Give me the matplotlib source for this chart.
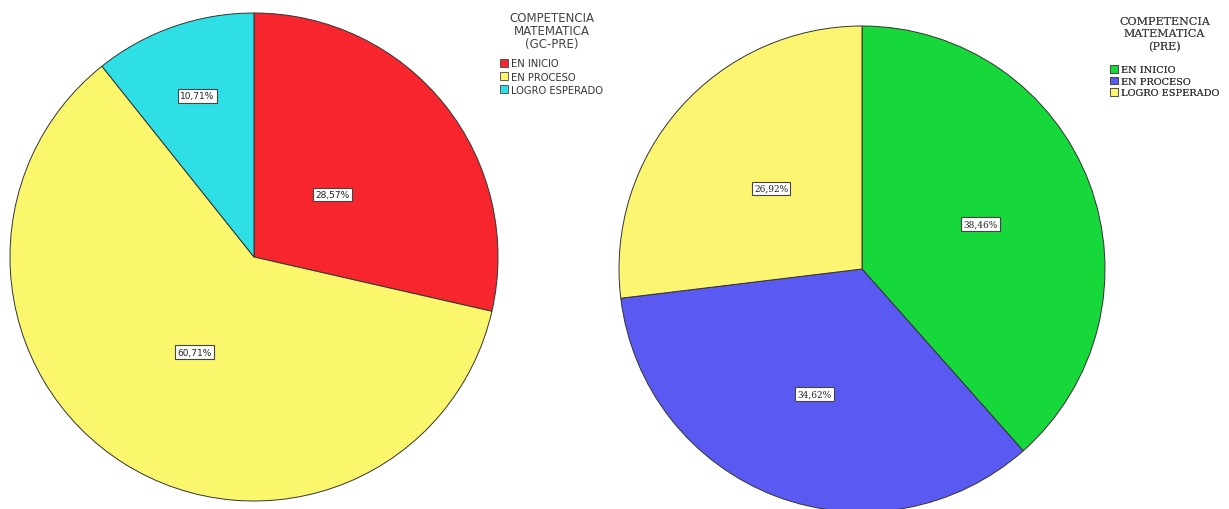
import numpy as np
import matplotlib.pyplot as plt

# data
categories = ["EN INICIO", "EN PROCESO", "LOGRO ESPERADO"]
gc_pre = [28.57, 60.71, 10.71]
pre = [38.46, 34.62, 26.92]
gc_colors = ["#f7262e", "#fbf76c", "#2ee0e6"]
pre_colors = ["#16d83a", "#5a5af2", "#fcf571"]

W, H = 1229, 510
fig = plt.figure(figsize=(W / 100, H / 100), dpi=100)
ax = fig.add_axes([0, 0, 1, 1])


def pct(v):
    return f"{v:.2f}%".replace(".", ",")


def draw_pie(vals, colors, center, radius, dists, family):
    wedges, _ = ax.pie(vals, colors=colors, startangle=90, counterclock=False,
                       center=center, radius=radius, frame=True,
                       wedgeprops=dict(edgecolor="#333333", linewidth=0.7))
    for w, v, d in zip(wedges, vals, dists):
        ang = np.deg2rad((w.theta1 + w.theta2) / 2)
        x = center[0] + d * radius * np.cos(ang)
        y = center[1] + d * radius * np.sin(ang)
        ax.text(x, y, pct(v), ha="center", va="center", fontsize=6.5,
                family=family, color="#222222",
                bbox=dict(boxstyle="square,pad=0.25", fc="white",
                          ec="#444444", lw=0.8))
    return wedges


def add_legend(wedges, title, anchor, family, tsize, lsize, tls, lsp, gap):
    leg = ax.legend(wedges, categories, title=title, loc="upper left",
                    bbox_to_anchor=anchor, bbox_transform=fig.transFigure,
                    frameon=False, prop=dict(family=family, size=lsize),
                    title_fontproperties=dict(family=family, size=tsize),
                    handlelength=0.8, handleheight=0.8, handletextpad=0.3,
                    labelspacing=lsp, borderpad=0, borderaxespad=0,
                    alignment="center", labelcolor="#333333")
    leg.get_title().set_multialignment("center")
    leg.get_title().set_color("#444444")
    leg.get_title().set_linespacing(tls)
    leg._legend_box.sep = gap
    for h in leg.legend_handles:
        h.set_edgecolor("#444444")
        h.set_linewidth(0.6)
    ax.add_artist(leg)
    return leg


w1 = draw_pie(gc_pre, gc_colors, (254, 252), 244, [0.41, 0.46, 0.70], "DejaVu Sans")
w2 = draw_pie(pre, pre_colors, (862, 240), 243, [0.52, 0.55, 0.50], "DejaVu Serif")
ax.set_xlim(0, W)
ax.set_ylim(0, H)
ax.set_aspect("equal")
ax.axis("off")

add_legend(w1, "COMPETENCIA\nMATEMATICA\n(GC-PRE)", (500 / W, 1 - 12 / H),
           "DejaVu Sans", 8.5, 7.2, 1.0, 0.32, 6)
add_legend(w2, "COMPETENCIA\nMATEMATICA\n(PRE)", (1110 / W, 1 - 17 / H),
           "DejaVu Serif", 8, 7, 1.3, 0.25, 10)

fig.savefig("out.png", dpi=100, facecolor="white")
